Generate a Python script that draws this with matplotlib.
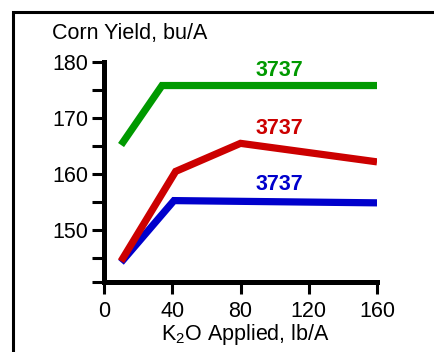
import matplotlib.pyplot as plt
from matplotlib.patches import Rectangle

plt.rcParams['font.family'] = ['Liberation Sans', 'DejaVu Sans']
plt.rcParams['mathtext.fontset'] = 'custom'
plt.rcParams['mathtext.rm'] = 'Liberation Sans'
plt.rcParams['mathtext.default'] = 'regular'

# K2O rate (lb/A) vs corn yield (bu/A)
green_x = [10, 34, 160]
green_y = [165.2, 175.8, 175.8]
red_x = [10, 42, 80, 160]
red_y = [144.5, 160.5, 165.5, 162.2]
blue_x = [10, 41, 160]
blue_y = [144.3, 155.3, 154.9]

label_text = '3737'
label_x = 103
label_y = {'green': 178.4, 'red': 168.2, 'blue': 158.2}

x_ticks = [0, 40, 80, 120, 160]
y_ticks = [150, 160, 170, 180]
y_minor = [140.8, 145, 155, 165, 175]

c_green = '#009900'
c_red = '#cc0000'
c_blue = '#0000cc'

fig = plt.figure(figsize=(4.34, 3.52), dpi=100)
ax = fig.add_axes([0.2396, 0.1989, 0.6291, 0.6251])

lw = 5.2
ax.plot(blue_x, blue_y, color=c_blue, lw=lw, solid_capstyle='butt', solid_joinstyle='miter')
ax.plot(red_x, red_y, color=c_red, lw=lw, solid_capstyle='butt', solid_joinstyle='miter')
ax.plot(green_x, green_y, color=c_green, lw=lw, solid_capstyle='butt', solid_joinstyle='miter')

fs = 15.5
ax.text(label_x, label_y['green'], label_text, color=c_green, fontsize=fs, fontweight='bold', ha='center', va='center')
ax.text(label_x, label_y['red'], label_text, color=c_red, fontsize=fs, fontweight='bold', ha='center', va='center')
ax.text(label_x, label_y['blue'], label_text, color=c_blue, fontsize=fs, fontweight='bold', ha='center', va='center')

ax.set_xlim(0, 160)
ax.set_ylim(140.8, 180)
ax.set_xticks(x_ticks)
ax.set_yticks(y_ticks)
ax.set_yticks(y_minor, minor=True)
ax.tick_params(axis='both', which='both', direction='out', length=8.5, width=2.2, labelsize=fs, pad=3)
ax.tick_params(axis='x', pad=5)

for s in ['top', 'right']:
    ax.spines[s].set_visible(False)
for s in ['left', 'bottom']:
    ax.spines[s].set_linewidth(3.6)
ax.patch.set_alpha(0)

fig.text(0.12, 0.906, 'Corn Yield, bu/A', fontsize=fs, ha='left', va='center')
fig.text(0.565, 0.05, 'K$_2$O Applied, lb/A', fontsize=fs, ha='center', va='center')

fig.patches.append(Rectangle((13 / 434, -0.05), 1.2, 1.016, transform=fig.transFigure,
                             fill=False, edgecolor='black', lw=2.2, clip_on=False))

fig.savefig('out.png', dpi=100)
